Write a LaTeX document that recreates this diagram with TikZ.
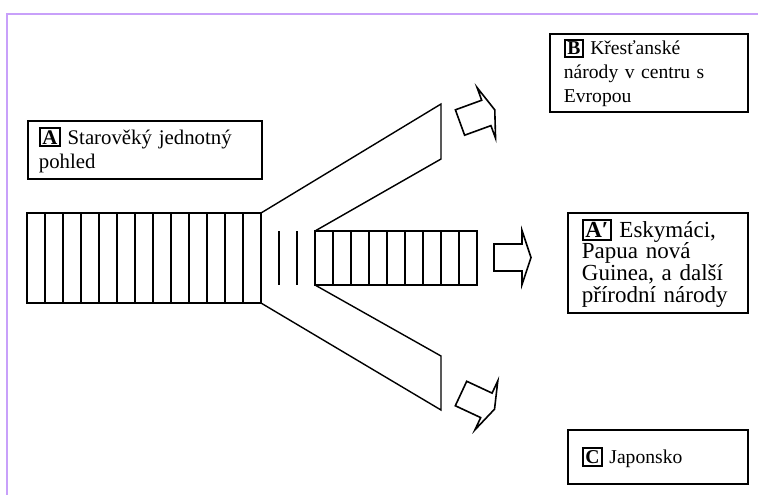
\documentclass[tikz,border=0pt]{standalone}
\usepackage{fontspec}
\setmainfont{Liberation Serif}
\definecolor{framelila}{RGB}{200,160,250}
\newcommand{\boxlet}[1]{{\setlength{\fboxsep}{0.7pt}\setlength{\fboxrule}{1pt}\fbox{\textbf{#1}}}}

\begin{document}
\begin{tikzpicture}[x=0.5pt, y=-0.5pt,
	txtbox/.style={draw, line width=0.9pt, anchor=north west, align=left, inner ysep=0pt, inner xsep=7pt},
	stripe/.style={line width=0.7pt},
	blockarrow/.pic={\draw[line width=0.8pt] (0,-13.5) -- (28,-13.5) -- (28,-27) -- (37,0) -- (28,27) -- (28,13.5) -- (0,13.5) -- cycle;}]
	\useasboundingbox (0,0) rectangle (758,495);
	% frame
	\draw[framelila, line width=1.3pt] (758,14) -- (7,14) -- (7,495);
	% text boxes
	\node[txtbox, inner xsep=5.5pt, minimum width=117pt, text width=106pt, minimum height=29pt, font=\fontsize{10.4}{12.25}\selectfont] (boxA) at (27,120) {\boxlet{A} Starověký jednotný\\pohled};
	\node[txtbox, minimum width=99pt, text width=85pt, minimum height=39pt, font=\fontsize{9.8}{12}\selectfont] (boxB) at (549,33) {\boxlet{B} Křesťanské\\národy v centru s\\Evropou};
	\node[txtbox, minimum width=90pt, text width=76pt, minimum height=50pt, font=\fontsize{11.5}{10.8}\selectfont] (boxAp) at (567,212) {\boxlet{A′} Eskymáci,\\Papua nová\\Guinea, a další\\přírodní národy};
	\node[txtbox, minimum width=90pt, text width=76pt, minimum height=27pt, font=\fontsize{9.8}{12}\selectfont] (boxC) at (567,429) {\boxlet{C} Japonsko};
	% old block
	\draw[stripe] (27,213) rectangle (261,303);
	\draw[stripe] (45,213) -- (45,303) (63,213) -- (63,303) (81,213) -- (81,303)
		(99,213) -- (99,303) (117,213) -- (117,303) (135,213) -- (135,303)
		(153,213) -- (153,303) (171,213) -- (171,303) (189,213) -- (189,303)
		(207,213) -- (207,303) (225,213) -- (225,303) (243,213) -- (243,303);
	% gap
	\draw[stripe] (279,231) -- (279,285) (297,231) -- (297,285);
	% narrow block
	\draw[stripe] (315,231) rectangle (477,285);
	\draw[stripe] (333,231) -- (333,285) (351,231) -- (351,285) (369,231) -- (369,285)
		(387,231) -- (387,285) (405,231) -- (405,285) (423,231) -- (423,285)
		(441,231) -- (441,285) (459,231) -- (459,285);
	% branches
	\draw[stripe] (261,213) -- (441,104) -- (441,159) -- (315,231);
	\draw[stripe] (261,303) -- (441,410) -- (441,356) -- (315,285);
	% arrows
	\pic[rotate=20] (arrB) at (460,122.5) {blockarrow};
	\pic (arrAp) at (494,257.5) {blockarrow};
	\pic[rotate=-25] (arrC) at (461,393.5) {blockarrow};
\end{tikzpicture}
\end{document}
